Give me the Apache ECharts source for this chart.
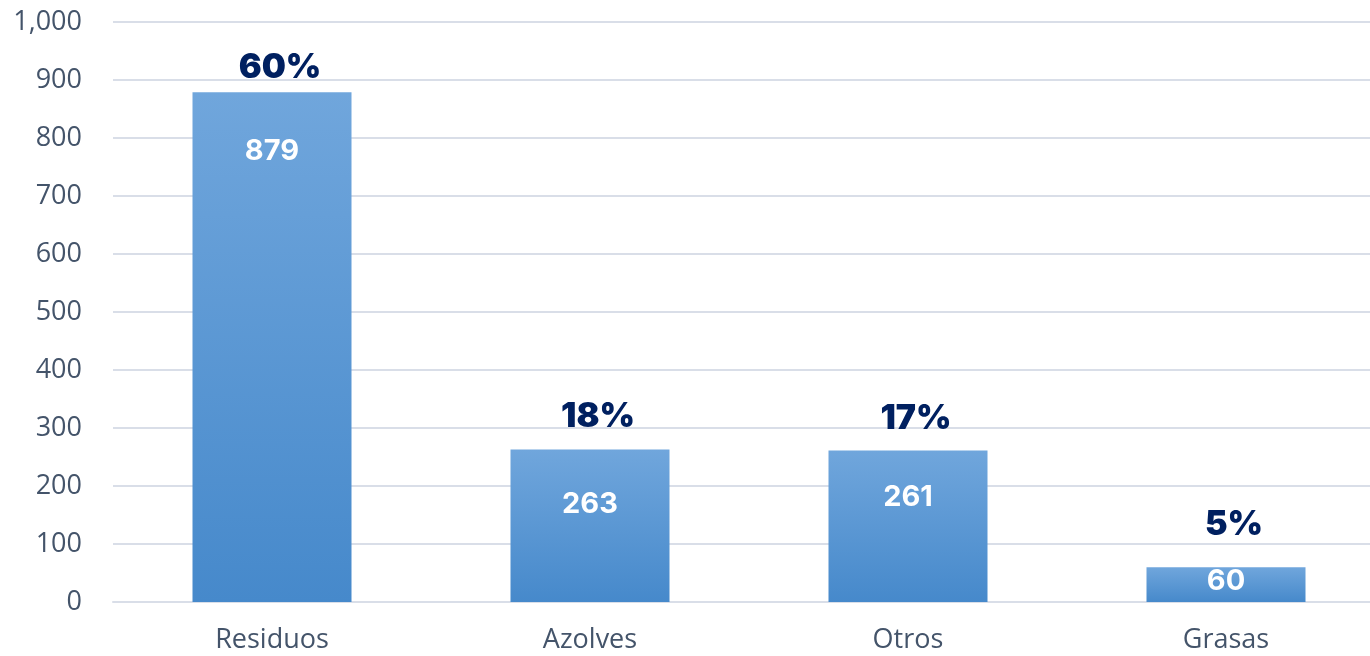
<!DOCTYPE html>
<html>
<head>
<meta charset="utf-8">
<script src="https://cdn.jsdelivr.net/npm/echarts@6/dist/echarts.min.js"></script>
<style>
html,body{margin:0;padding:0;background:#ffffff;overflow:hidden;width:1370px;height:656px;}
#chart{width:1385px;height:656px;}
</style>
</head>
<body>
<div id="chart"></div>
<script>
// ---- data ----
const categories = ['Residuos', 'Azolves', 'Otros', 'Grasas'];
const values = [879, 263, 261, 60];
const percentLabels = ['60%', '18%', '17%', '5%'];
const yTicks = { min: 0, max: 1000, interval: 100 };

// ---- label placement (style) ----
const pctGap = [7, 16, 15, 25];
const valGap = [45, 40, 32, 0];

const chart = echarts.init(document.getElementById('chart'));
const barGradient = new echarts.graphic.LinearGradient(0, 0, 0, 1, [
  { offset: 0, color: '#70a6dc' },
  { offset: 1, color: '#4689cb' }
]);

chart.setOption({
  animation: false,
  grid: { left: 113, right: 0, top: 22, bottom: 54 },
  xAxis: {
    type: 'category',
    data: categories,
    axisLine: { show: true, lineStyle: { color: '#d9dee8', width: 2 } },
    axisTick: { show: false },
    axisLabel: { color: '#44546a', fontSize: 27, fontFamily: 'Open Sans', margin: 25 }
  },
  yAxis: {
    type: 'value',
    min: yTicks.min, max: yTicks.max, interval: yTicks.interval,
    axisLine: { show: false },
    axisTick: { show: false },
    splitLine: { lineStyle: { color: '#d9dee8', width: 2 } },
    axisLabel: {
      color: '#44546a', fontSize: 27, fontFamily: 'Open Sans', margin: 31,
      formatter: v => v.toLocaleString('en-US')
    }
  },
  series: [
    {
      type: 'bar',
      barWidth: '50%',
      data: values.map((v, i) => ({
        value: v,
        label: { distance: valGap[i] }
      })),
      itemStyle: { color: barGradient },
      label: {
        show: true, position: 'insideTop',
        color: '#ffffff', fontSize: 29, fontWeight: 700, fontFamily: 'Inter'
      },
      z: 2
    },
    {
      type: 'bar',
      barWidth: '50%',
      barGap: '-100%',
      silent: true,
      data: values.map((v, i) => ({
        value: v,
        label: { distance: pctGap[i], formatter: percentLabels[i] }
      })),
      itemStyle: { color: 'rgba(0,0,0,0)' },
      label: {
        show: true, position: 'top', offset: [8, 0],
        color: '#002060', fontSize: 34, fontWeight: 900, fontFamily: 'Inter'
      },
      z: 3
    }
  ]
});
</script>
</body>
</html>
